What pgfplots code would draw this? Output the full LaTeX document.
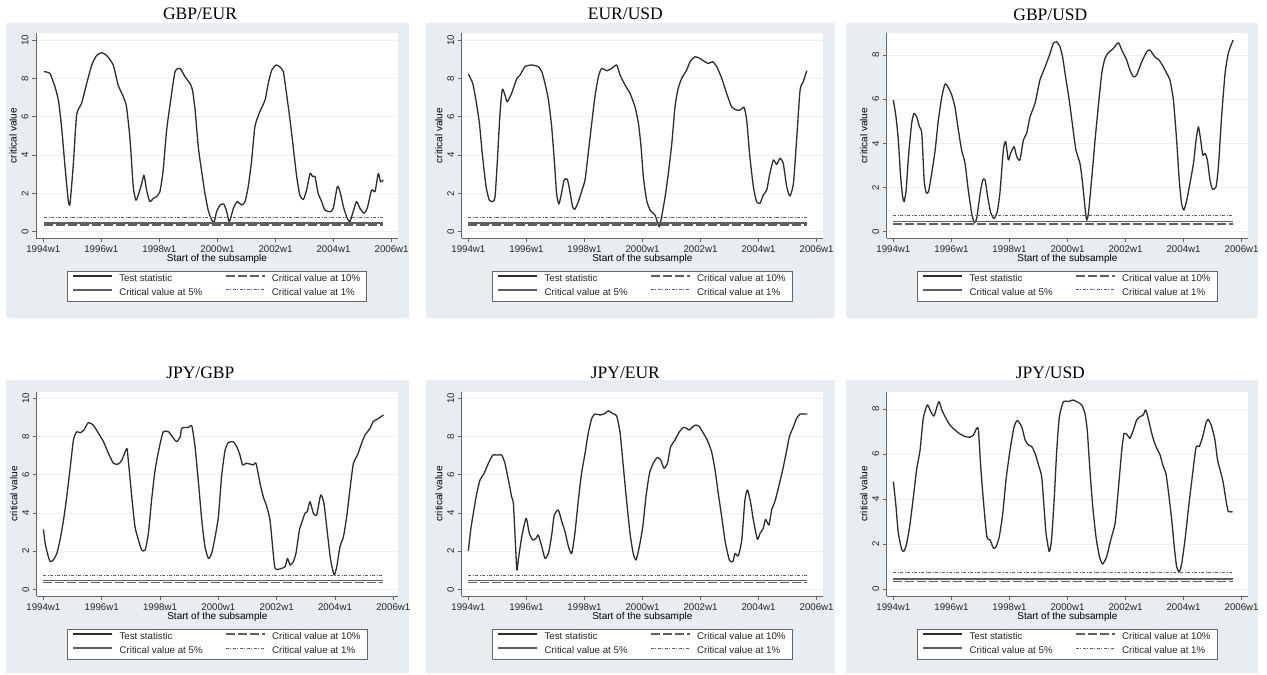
\documentclass[border=0pt]{standalone}
\usepackage{fontspec}
\setmainfont{Liberation Sans}
\newfontfamily\titlefont{Liberation Serif}
\usepackage{pgfplots}
\usepackage{pgfplotstable}
\pgfplotsset{compat=1.18}

\definecolor{statabg}{RGB}{232,237,241}
\definecolor{linecol}{RGB}{45,45,45}
\definecolor{critcol}{RGB}{95,95,95}

% test statistic, t = years since 1994w1
\pgfplotstableread[row sep=\\]{t v\\
0.03 8.35\\ 0.23 8.26\\ 0.40 7.57\\ 0.52 6.87\\ 0.63 5.48\\ 0.75 3.39\\ 0.86 1.65\\ 0.92 1.44\\
1.03 3.40\\ 1.15 6.10\\ 1.32 6.70\\ 1.49 7.70\\ 1.67 8.70\\ 1.84 9.20\\ 2.01 9.34\\ 2.18 9.20\\
2.41 8.70\\ 2.58 7.65\\ 2.76 7.04\\ 2.87 6.50\\ 2.99 4.80\\ 3.10 2.35\\ 3.19 1.65\\ 3.27 1.90\\
3.39 2.50\\ 3.47 2.95\\ 3.56 2.17\\ 3.67 1.57\\ 3.79 1.74\\ 3.90 1.83\\ 4.02 2.10\\ 4.13 3.20\\
4.25 5.30\\ 4.39 6.87\\ 4.54 8.35\\ 4.71 8.52\\ 4.88 8.10\\ 5.05 7.74\\ 5.14 7.40\\ 5.23 6.35\\
5.34 4.43\\ 5.45 3.20\\ 5.57 2.00\\ 5.68 1.13\\ 5.80 0.61\\ 5.89 0.52\\ 5.97 1.04\\ 6.09 1.39\\
6.22 1.44\\ 6.32 1.04\\ 6.41 0.52\\ 6.55 1.22\\ 6.68 1.57\\ 6.83 1.39\\ 6.95 1.57\\ 7.06 2.35\\
7.18 3.74\\ 7.29 5.48\\ 7.46 6.26\\ 7.64 6.87\\ 7.75 7.74\\ 7.87 8.43\\ 8.02 8.70\\ 8.15 8.60\\
8.27 8.35\\ 8.38 7.20\\ 8.50 5.83\\ 8.61 4.43\\ 8.73 2.87\\ 8.84 1.90\\ 8.96 1.68\\ 9.07 2.17\\
9.19 3.04\\ 9.28 2.87\\ 9.36 2.87\\ 9.47 2.00\\ 9.59 1.57\\ 9.70 1.13\\ 9.88 1.04\\ 9.99 1.22\\
10.13 2.35\\ 10.22 2.10\\ 10.34 1.30\\ 10.47 0.70\\ 10.56 0.52\\ 10.66 0.96\\ 10.79 1.57\\ 10.91 1.22\\
11.05 0.96\\ 11.16 1.22\\ 11.31 2.17\\ 11.43 2.10\\ 11.54 3.04\\ 11.62 2.60\\ 11.71 2.70\\
}\gbpeur

\pgfplotstableread[row sep=\\]{t v\\
0.00 8.23\\ 0.15 7.74\\ 0.26 6.87\\ 0.38 5.65\\ 0.49 3.91\\ 0.61 2.35\\ 0.72 1.65\\ 0.84 1.57\\
0.92 1.83\\ 1.00 3.74\\ 1.09 6.17\\ 1.17 7.43\\ 1.26 7.13\\ 1.34 6.78\\ 1.49 7.22\\ 1.67 8.00\\
1.78 8.17\\ 1.95 8.61\\ 2.18 8.70\\ 2.41 8.61\\ 2.53 8.35\\ 2.64 7.74\\ 2.76 6.87\\ 2.87 5.48\\
2.96 3.74\\ 3.04 2.00\\ 3.12 1.44\\ 3.22 2.09\\ 3.30 2.70\\ 3.41 2.73\\ 3.50 2.09\\ 3.59 1.30\\
3.67 1.17\\ 3.79 1.57\\ 3.90 2.09\\ 4.02 2.70\\ 4.13 4.09\\ 4.25 5.65\\ 4.36 7.04\\ 4.48 8.09\\
4.59 8.52\\ 4.77 8.40\\ 4.94 8.52\\ 5.11 8.70\\ 5.23 8.17\\ 5.40 7.65\\ 5.57 7.22\\ 5.74 6.52\\
5.86 5.65\\ 5.95 4.43\\ 6.03 2.87\\ 6.14 1.65\\ 6.26 1.13\\ 6.37 0.96\\ 6.43 0.87\\ 6.51 0.52\\
6.58 0.26\\ 6.66 0.78\\ 6.78 1.83\\ 6.89 3.04\\ 7.01 4.61\\ 7.12 6.52\\ 7.23 7.48\\ 7.35 8.00\\
7.52 8.43\\ 7.64 8.87\\ 7.81 9.13\\ 7.98 9.04\\ 8.15 8.87\\ 8.27 8.78\\ 8.42 8.87\\ 8.56 8.61\\
8.73 8.00\\ 8.90 7.22\\ 9.07 6.52\\ 9.24 6.35\\ 9.36 6.35\\ 9.50 6.49\\ 9.59 5.83\\ 9.70 3.91\\
9.82 2.35\\ 9.93 1.57\\ 10.05 1.48\\ 10.16 1.91\\ 10.28 2.17\\ 10.39 3.04\\ 10.51 3.74\\ 10.62 3.51\\
10.74 3.83\\ 10.85 3.57\\ 10.97 2.35\\ 11.08 1.86\\ 11.20 2.52\\ 11.31 4.78\\ 11.43 7.39\\ 11.54 7.83\\
11.66 8.40\\
}\eurusd

\pgfplotstableread[row sep=\\]{t v\\
0.00 5.96\\ 0.09 5.21\\ 0.17 4.15\\ 0.25 2.49\\ 0.32 1.58\\ 0.37 1.36\\ 0.44 1.89\\ 0.52 3.40\\
0.63 4.91\\ 0.71 5.36\\ 0.80 5.21\\ 0.90 4.75\\ 0.98 4.45\\ 1.06 2.34\\ 1.13 1.77\\ 1.21 1.81\\
1.32 2.64\\ 1.44 3.70\\ 1.55 5.06\\ 1.67 6.11\\ 1.78 6.69\\ 1.89 6.54\\ 2.01 6.19\\ 2.12 5.66\\
2.24 4.60\\ 2.35 3.70\\ 2.47 3.09\\ 2.58 1.89\\ 2.70 0.83\\ 2.79 0.41\\ 2.87 0.60\\ 2.99 1.74\\
3.08 2.34\\ 3.16 2.34\\ 3.25 1.58\\ 3.36 0.83\\ 3.47 0.60\\ 3.58 0.91\\ 3.67 1.74\\ 3.79 3.70\\
3.87 4.08\\ 3.96 3.25\\ 4.04 3.55\\ 4.16 3.85\\ 4.25 3.40\\ 4.36 3.25\\ 4.48 4.15\\ 4.59 4.45\\
4.71 5.21\\ 4.88 5.81\\ 5.05 6.87\\ 5.23 7.47\\ 5.40 8.08\\ 5.51 8.53\\ 5.63 8.60\\ 5.74 8.38\\
5.83 7.92\\ 5.95 6.87\\ 6.06 5.96\\ 6.18 4.75\\ 6.29 3.70\\ 6.43 3.09\\ 6.52 2.19\\ 6.60 1.13\\
6.66 0.53\\ 6.72 0.83\\ 6.83 2.34\\ 6.95 4.15\\ 7.06 5.66\\ 7.18 7.17\\ 7.29 7.85\\ 7.41 8.11\\
7.58 8.30\\ 7.75 8.56\\ 7.87 8.23\\ 8.04 7.77\\ 8.15 7.32\\ 8.27 7.02\\ 8.38 7.09\\ 8.56 7.70\\
8.73 8.15\\ 8.84 8.23\\ 9.01 7.92\\ 9.16 7.77\\ 9.30 7.47\\ 9.42 7.17\\ 9.53 6.87\\ 9.65 5.96\\
9.76 4.15\\ 9.85 2.34\\ 9.93 1.28\\ 10.01 0.98\\ 10.11 1.43\\ 10.22 2.19\\ 10.34 3.09\\ 10.43 4.15\\
10.51 4.75\\ 10.59 4.15\\ 10.66 3.47\\ 10.74 3.55\\ 10.82 3.25\\ 10.91 2.34\\ 11.00 1.92\\ 11.12 2.04\\
11.20 2.94\\ 11.31 5.21\\ 11.43 7.17\\ 11.54 8.08\\ 11.66 8.53\\ 11.71 8.68\\
}\gbpusd

\pgfplotstableread[row sep=\\]{t v\\
0.00 3.14\\ 0.06 2.41\\ 0.14 1.88\\ 0.23 1.45\\ 0.34 1.54\\ 0.46 1.88\\ 0.57 2.58\\ 0.69 3.63\\
0.80 4.85\\ 0.91 6.25\\ 1.03 7.82\\ 1.14 8.25\\ 1.26 8.20\\ 1.39 8.34\\ 1.54 8.73\\ 1.71 8.60\\
1.89 8.17\\ 2.06 7.73\\ 2.23 7.12\\ 2.40 6.60\\ 2.57 6.56\\ 2.69 6.77\\ 2.86 7.38\\ 2.91 6.77\\
3.03 4.85\\ 3.14 3.28\\ 3.26 2.58\\ 3.37 2.06\\ 3.49 2.06\\ 3.60 2.93\\ 3.71 4.68\\ 3.83 6.25\\
3.98 7.47\\ 4.11 8.25\\ 4.29 8.25\\ 4.46 7.91\\ 4.57 7.73\\ 4.69 7.99\\ 4.74 8.43\\ 4.86 8.48\\
4.97 8.48\\ 5.09 8.55\\ 5.20 7.47\\ 5.31 5.72\\ 5.43 3.63\\ 5.54 2.23\\ 5.66 1.62\\ 5.77 1.88\\
5.89 2.76\\ 6.00 3.80\\ 6.11 5.90\\ 6.23 7.29\\ 6.34 7.68\\ 6.51 7.73\\ 6.63 7.47\\ 6.74 7.03\\
6.83 6.51\\ 6.95 6.60\\ 7.09 6.56\\ 7.20 6.51\\ 7.29 6.60\\ 7.43 5.55\\ 7.54 4.85\\ 7.66 4.33\\
7.77 3.63\\ 7.86 2.23\\ 7.94 1.10\\ 8.06 1.05\\ 8.17 1.10\\ 8.29 1.19\\ 8.37 1.62\\ 8.46 1.27\\
8.57 1.45\\ 8.66 1.88\\ 8.78 3.11\\ 8.89 3.63\\ 8.97 3.98\\ 9.05 4.07\\ 9.14 4.59\\ 9.26 3.98\\
9.37 3.89\\ 9.51 4.94\\ 9.62 4.50\\ 9.74 2.93\\ 9.85 1.54\\ 9.97 0.75\\ 10.06 1.19\\ 10.17 2.23\\
10.29 2.76\\ 10.40 3.80\\ 10.51 5.20\\ 10.63 6.60\\ 10.77 7.03\\ 10.91 7.64\\ 11.03 8.08\\ 11.20 8.43\\
11.31 8.78\\ 11.49 8.95\\ 11.66 9.13\\
}\jpygbp

\pgfplotstableread[row sep=\\]{t v\\
0.00 2.02\\ 0.08 3.11\\ 0.17 3.98\\ 0.29 5.03\\ 0.40 5.72\\ 0.54 6.07\\ 0.69 6.60\\ 0.84 7.03\\
1.00 7.03\\ 1.15 7.03\\ 1.26 6.60\\ 1.38 5.72\\ 1.49 4.85\\ 1.55 4.50\\ 1.61 2.76\\ 1.67 1.01\\
1.72 1.54\\ 1.84 2.76\\ 1.99 3.72\\ 2.10 2.93\\ 2.22 2.58\\ 2.33 2.67\\ 2.41 2.84\\ 2.53 2.23\\
2.64 1.62\\ 2.76 1.88\\ 2.87 2.84\\ 2.96 3.89\\ 3.10 4.15\\ 3.22 3.54\\ 3.33 3.02\\ 3.45 2.23\\
3.56 1.88\\ 3.67 2.93\\ 3.79 4.68\\ 3.90 6.07\\ 4.02 7.12\\ 4.13 8.17\\ 4.25 8.95\\ 4.36 9.18\\
4.54 9.13\\ 4.71 9.21\\ 4.82 9.35\\ 4.97 9.21\\ 5.11 9.08\\ 5.23 8.17\\ 5.34 6.42\\ 5.45 4.68\\
5.57 2.93\\ 5.68 1.88\\ 5.78 1.54\\ 5.89 2.23\\ 6.01 3.28\\ 6.12 4.85\\ 6.24 6.07\\ 6.37 6.60\\
6.51 6.91\\ 6.63 6.77\\ 6.74 6.34\\ 6.86 6.60\\ 6.97 7.47\\ 7.12 7.82\\ 7.27 8.25\\ 7.41 8.48\\
7.52 8.43\\ 7.61 8.34\\ 7.73 8.52\\ 7.84 8.60\\ 7.96 8.52\\ 8.10 8.17\\ 8.23 7.82\\ 8.38 7.21\\
8.50 6.25\\ 8.61 5.03\\ 8.73 3.80\\ 8.84 2.58\\ 8.99 1.54\\ 9.11 1.45\\ 9.19 1.88\\ 9.30 1.75\\
9.42 2.58\\ 9.53 4.68\\ 9.62 5.20\\ 9.73 4.50\\ 9.82 3.63\\ 9.96 2.62\\ 10.05 2.93\\ 10.16 3.19\\
10.24 3.66\\ 10.36 3.37\\ 10.45 4.15\\ 10.56 4.59\\ 10.68 5.29\\ 10.83 6.25\\ 10.97 7.29\\ 11.06 7.99\\
11.20 8.52\\ 11.31 8.95\\ 11.43 9.18\\ 11.60 9.18\\ 11.68 9.18\\
}\jpyeur

\pgfplotstableread[row sep=\\]{t v\\
0.00 4.78\\ 0.09 3.67\\ 0.17 2.49\\ 0.29 1.75\\ 0.37 1.70\\ 0.46 2.04\\ 0.57 2.86\\ 0.69 4.11\\
0.80 5.30\\ 0.92 6.18\\ 1.03 7.59\\ 1.17 8.18\\ 1.29 7.88\\ 1.40 7.69\\ 1.52 8.18\\ 1.58 8.33\\
1.67 7.96\\ 1.81 7.59\\ 1.95 7.29\\ 2.12 7.07\\ 2.30 6.89\\ 2.47 6.78\\ 2.64 6.75\\ 2.76 6.85\\
2.87 7.14\\ 2.93 7.07\\ 3.01 5.44\\ 3.10 3.96\\ 3.22 2.34\\ 3.33 2.19\\ 3.45 1.82\\ 3.54 1.89\\
3.65 2.34\\ 3.77 3.37\\ 3.88 4.85\\ 4.02 6.18\\ 4.16 7.22\\ 4.27 7.49\\ 4.42 7.22\\ 4.54 6.63\\
4.65 6.41\\ 4.77 6.33\\ 4.88 6.04\\ 5.00 5.52\\ 5.11 5.00\\ 5.19 3.67\\ 5.26 2.49\\ 5.37 1.67\\
5.45 2.19\\ 5.54 3.96\\ 5.63 6.18\\ 5.72 7.66\\ 5.86 8.33\\ 6.03 8.33\\ 6.18 8.40\\ 6.32 8.33\\
6.49 8.18\\ 6.60 7.81\\ 6.68 7.07\\ 6.78 5.15\\ 6.87 3.67\\ 6.98 2.34\\ 7.10 1.45\\ 7.21 1.12\\
7.35 1.45\\ 7.49 2.19\\ 7.64 2.93\\ 7.75 4.41\\ 7.87 6.18\\ 7.95 6.92\\ 8.06 6.85\\ 8.15 6.70\\
8.27 7.07\\ 8.38 7.51\\ 8.50 7.66\\ 8.61 7.74\\ 8.70 7.96\\ 8.82 7.37\\ 8.93 6.78\\ 9.05 6.33\\
9.19 5.96\\ 9.30 5.44\\ 9.39 5.15\\ 9.47 4.41\\ 9.59 3.10\\ 9.67 2.00\\ 9.76 1.00\\ 9.85 0.78\\
9.93 1.10\\ 10.05 2.20\\ 10.16 3.50\\ 10.28 4.80\\ 10.43 6.30\\ 10.54 6.33\\ 10.66 6.78\\ 10.77 7.37\\
10.85 7.54\\ 10.97 7.22\\ 11.08 6.63\\ 11.17 5.74\\ 11.29 5.15\\ 11.37 4.70\\ 11.46 3.96\\ 11.54 3.45\\
11.69 3.45\\
}\jpyusd

\pgfplotsset{
  statapanel/.style={
    scale only axis,
    axis x line*=bottom, axis y line*=left,
    axis line style={draw=black!60, line width=0.8pt, -},
    tick align=outside, major tick length=4pt,
    tick style={draw=black!60, line width=0.8pt},
    xtick={0,2,...,12},
    xticklabels={1994w1,1996w1,1998w1,2000w1,2002w1,2004w1,2006w1},
    ymajorgrids, grid style={draw=black!6, line width=0.7pt},
    axis background/.style={fill=white},
    /pgf/number format/assume math mode=true,
    tick label style={font=\fontsize{9.7}{11}\selectfont, text=black!85},
    yticklabel style={rotate=90, anchor=south},
    xlabel={Start of the subsample}, ylabel={critical value},
    label style={font=\fontsize{9.7}{11}\selectfont, text=black!85},
    every axis x label/.style={at={(axis description cs:0.5,0)}, anchor=center, yshift=-21pt},
    every axis y label/.style={at={(axis description cs:0,0.5)}, anchor=center, xshift=-23pt, rotate=90},
    title style={font=\titlefont\fontsize{17.5}{20}\selectfont, at={(axis description cs:0.5,1)}, anchor=base, yshift=7pt, xshift=-17pt},
    legend columns=2,
    legend cell align=left,
    legend style={at={(axis description cs:0.5,0)}, anchor=north, yshift=-33pt,
      draw=black!60, fill=white, line width=0.8pt,
      font=\fontsize{9.7}{11}\selectfont, text=black!85,
      inner xsep=5pt, inner ysep=2pt, row sep=2pt,
      nodes={inner sep=1.5pt, text height=7pt, text depth=2pt},
      /tikz/every odd column/.append style={column sep=5pt},
      /tikz/every even column/.append style={column sep=21pt}},
    legend image code/.code={\draw[#1] (0pt,3.5pt) -- (39pt,3.5pt);},
  },
  teststat/.style={color=linecol, line width=1.3pt, line join=round, smooth, tension=0.35, mark=none},
  crit10/.style={color=critcol, line width=1.5pt, dash pattern=on 9pt off 3pt, mark=none},
  crit5/.style={color=critcol, line width=1.5pt, mark=none},
  crit1/.style={color=critcol, line width=0.8pt, dash pattern=on 3pt off 1.5pt on 1pt off 1.5pt, mark=none},
}

\begin{document}
\begin{tikzpicture}[x=1pt,y=1pt]
\useasboundingbox (0,0) rectangle (1267,675);
\fill[white] (0,0) rectangle (1267,675);
\fill[statabg] (6,357) rectangle (409,652);
\fill[statabg] (426,357) rectangle (835,652);
\fill[statabg] (846,357) rectangle (1258,652);
\fill[statabg] (6,2) rectangle (409,295);
\fill[statabg] (426,2) rectangle (835,295);
\fill[statabg] (846,2) rectangle (1258,295);

% GBP/EUR
\begin{axis}[statapanel, at={(36pt,437pt)}, anchor=south west, width=362pt, height=205pt,
  xmin=-0.25, xmax=12.22, ymin=-0.33, ymax=10.37, ytick={0,2,...,10}, title={GBP/EUR}]
\addplot[teststat] table[x=t, y=v] {\gbpeur};
\addplot[crit10] coordinates {(0.03,0.347) (11.71,0.347)};
\addplot[crit5] coordinates {(0.03,0.463) (11.71,0.463)};
\addplot[crit1] coordinates {(0.03,0.739) (11.71,0.739)};
\legend{Test statistic, Critical value at 10\%, Critical value at 5\%, Critical value at 1\%}
\end{axis}

% EUR/USD
\begin{axis}[statapanel, at={(461.7pt,437pt)}, anchor=south west, width=361.3pt, height=205pt,
  xmin=-0.23, xmax=12.22, ymin=-0.33, ymax=10.37, ytick={0,2,...,10}, title={EUR/USD}]
\addplot[teststat] table[x=t, y=v] {\eurusd};
\addplot[crit10] coordinates {(0,0.347) (11.66,0.347)};
\addplot[crit5] coordinates {(0,0.463) (11.66,0.463)};
\addplot[crit1] coordinates {(0,0.739) (11.66,0.739)};
\legend{Test statistic, Critical value at 10\%, Critical value at 5\%, Critical value at 1\%}
\end{axis}

% GBP/USD
\begin{axis}[statapanel, at={(886.7pt,437pt)}, anchor=south west, width=361.3pt, height=205pt,
  xmin=-0.23, xmax=12.22, ymin=-0.285, ymax=9.0, ytick={0,2,...,8}, title={GBP/USD}]
\addplot[teststat] table[x=t, y=v] {\gbpusd};
\addplot[crit10] coordinates {(0,0.347) (11.71,0.347)};
\addplot[crit5] coordinates {(0,0.463) (11.71,0.463)};
\addplot[crit1] coordinates {(0,0.739) (11.71,0.739)};
\legend{Test statistic, Critical value at 10\%, Critical value at 5\%, Critical value at 1\%}
\end{axis}

% JPY/GBP
\begin{axis}[statapanel, at={(36.7pt,79pt)}, anchor=south west, width=361.3pt, height=204.3pt,
  xmin=-0.23, xmax=12.16, ymin=-0.35, ymax=10.35, ytick={0,2,...,10}, title={JPY/GBP}]
\addplot[teststat] table[x=t, y=v] {\jpygbp};
\addplot[crit10] coordinates {(0,0.347) (11.66,0.347)};
\addplot[crit5] coordinates {(0,0.463) (11.66,0.463)};
\addplot[crit1] coordinates {(0,0.739) (11.66,0.739)};
\legend{Test statistic, Critical value at 10\%, Critical value at 5\%, Critical value at 1\%}
\end{axis}

% JPY/EUR
\begin{axis}[statapanel, at={(461.7pt,79pt)}, anchor=south west, width=361.3pt, height=204.3pt,
  xmin=-0.23, xmax=12.22, ymin=-0.35, ymax=10.35, ytick={0,2,...,10}, title={JPY/EUR}]
\addplot[teststat] table[x=t, y=v] {\jpyeur};
\addplot[crit10] coordinates {(0,0.347) (11.68,0.347)};
\addplot[crit5] coordinates {(0,0.463) (11.68,0.463)};
\addplot[crit1] coordinates {(0,0.739) (11.68,0.739)};
\legend{Test statistic, Critical value at 10\%, Critical value at 5\%, Critical value at 1\%}
\end{axis}

% JPY/USD
\begin{axis}[statapanel, at={(886.7pt,79pt)}, anchor=south west, width=361.3pt, height=204.3pt,
  xmin=-0.23, xmax=12.22, ymin=-0.30, ymax=8.77, ytick={0,2,...,8}, title={JPY/USD}]
\addplot[teststat] table[x=t, y=v] {\jpyusd};
\addplot[crit10] coordinates {(0,0.347) (11.69,0.347)};
\addplot[crit5] coordinates {(0,0.463) (11.69,0.463)};
\addplot[crit1] coordinates {(0,0.739) (11.69,0.739)};
\legend{Test statistic, Critical value at 10\%, Critical value at 5\%, Critical value at 1\%}
\end{axis}
\end{tikzpicture}
\end{document}
